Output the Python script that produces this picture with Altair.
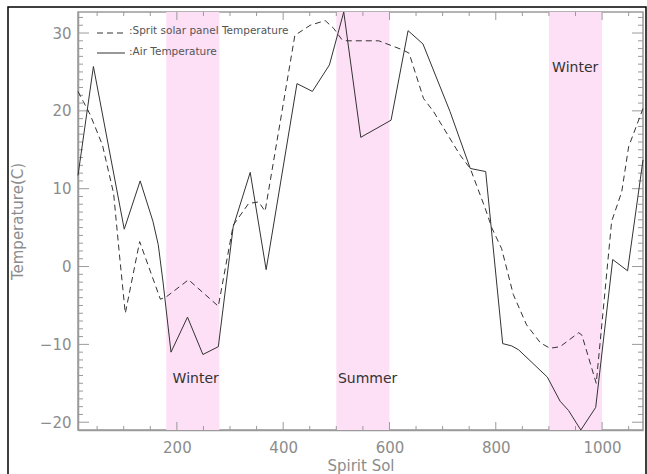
import altair as alt
import pandas as pd

# ---- data ----
air_sol = [14, 43, 101, 131, 155, 165, 174, 189, 220, 249, 278, 306, 338, 368,
           426, 455, 487, 514, 546, 603, 635, 663, 714, 752, 781, 813, 830, 843,
           897, 921, 937, 960, 988, 1020, 1048, 1077]
air_temp = [11.7, 25.7, 4.8, 11.0, 5.8, 2.8, -2.0, -11.0, -6.5, -11.3, -10.3, 5.1,
            12.1, -0.4, 23.5, 22.5, 25.9, 32.7, 16.6, 18.8, 30.3, 28.6, 19.9, 12.6,
            12.2, -9.9, -10.2, -10.7, -14.2, -17.3, -18.5, -21.0, -18.1, 0.9, -0.55, 13.7]

panel_sol = [14, 24, 37, 60, 81, 92, 103, 130, 169, 180, 222, 278, 306, 335, 354,
             366, 422, 451, 479, 495, 510, 520, 580, 626, 637, 664, 683, 733, 752,
             780, 793, 811, 833, 858, 884, 902, 921, 956, 962, 989, 1018, 1037,
             1050, 1077]
panel_temp = [22.5, 21.2, 19.5, 15.6, 9.4, 1.5, -6.0, 3.2, -4.2, -3.9, -1.7, -5.1,
              5.3, 8.1, 8.3, 7.1, 29.7, 31.0, 31.6, 30.6, 29.2, 29.0, 29.0, 27.8,
              27.4, 21.6, 19.9, 14.3, 12.6, 7.5, 4.9, 2.3, -3.6, -7.5, -9.8, -10.5,
              -10.3, -8.5, -8.8, -15.0, 5.8, 9.6, 15.4, 20.3]

season_start = [180, 500, 900]
season_end = [280, 600, 1000]
season_name = ["Winter", "Summer", "Winter"]
season_label_sol = [192, 503, 906]
season_label_temp = [-15.0, -15.0, 25.0]

x_major = [200, 400, 600, 800, 1000]
x_minor = [50, 100, 150, 250, 300, 350, 450, 500, 550, 650, 700, 750, 850, 900,
           950, 1050]
y_major = [-20, -10, 0, 10, 20, 30]
y_minor = [v for v in range(-20, 33) if v % 10 != 0]

legend_names = [":Sprit solar panel Temperature", ":Air Temperature"]

# ---- layout ----
W, H = 565, 418
AXIS_GRAY = "#9a9a9a"
LINE = "#333333"
FONT = "DejaVu Sans"
DASH = [6, 4]

xscale = alt.Scale(domain=[14, 1077], nice=False, zero=False)
yscale = alt.Scale(domain=[-21, 32.7], nice=False, zero=False)

air_df = pd.DataFrame({"sol": air_sol, "temp": air_temp})
panel_df = pd.DataFrame({"sol": panel_sol, "temp": panel_temp})
season_df = pd.DataFrame({"start": season_start, "end": season_end})
label_df = pd.DataFrame({"sol": season_label_sol, "temp": season_label_temp,
                         "name": season_name})

x_axis = alt.Axis(title="Spirit Sol", values=x_major, format="d", ticks=False, grid=False,
                  domainColor=AXIS_GRAY, domainWidth=1.5, labelColor="#8c8c8c",
                  labelFont=FONT, labelFontSize=15, labelPadding=10,
                  titleColor="#8c8c8c", titleFont=FONT, titleFontSize=15,
                  titleFontWeight="normal", titlePadding=3, labelFlush=False)
y_axis = alt.Axis(title="Temperature(C)", values=y_major, format="d", ticks=False,
                  grid=False, domainColor=AXIS_GRAY, domainWidth=1.5,
                  labelColor="#8c8c8c", labelFont=FONT, labelFontSize=15,
                  labelPadding=7, titleColor="#8c8c8c", titleFont=FONT,
                  titleFontSize=15, titleFontWeight="normal", titlePadding=14,
                  labelFlush=False)

# invisible layer carrying both axes
axis_layer = alt.Chart(air_df).mark_point(opacity=0).encode(
    x=alt.X("sol:Q", scale=xscale, axis=x_axis),
    y=alt.Y("temp:Q", scale=yscale, axis=y_axis),
)

bands = alt.Chart(season_df).mark_rect(color="#fde0f6").encode(
    x=alt.X("start:Q", scale=xscale, axis=None),
    x2="end:Q",
    y=alt.value(0), y2=alt.value(H),
)

air_line = alt.Chart(air_df).mark_line(color=LINE, strokeWidth=1).encode(
    x=alt.X("sol:Q", scale=xscale, axis=None),
    y=alt.Y("temp:Q", scale=yscale, axis=None),
)
panel_line = alt.Chart(panel_df).mark_line(color=LINE, strokeWidth=1,
                                           strokeDash=DASH).encode(
    x=alt.X("sol:Q", scale=xscale, axis=None),
    y=alt.Y("temp:Q", scale=yscale, axis=None),
)

labels = alt.Chart(label_df).mark_text(align="left", baseline="alphabetic", font=FONT,
                                       fontSize=14, color="#333333").encode(
    x=alt.X("sol:Q", scale=xscale, axis=None),
    y=alt.Y("temp:Q", scale=yscale, axis=None),
    text="name:N",
)

def xticks(vals, length):
    d = pd.DataFrame({"v": vals})
    bottom = alt.Chart(d).mark_rule(color=AXIS_GRAY, strokeWidth=1).encode(
        x=alt.X("v:Q", scale=xscale, axis=None), y=alt.value(H), y2=alt.value(H - length))
    top = alt.Chart(d).mark_rule(color=AXIS_GRAY, strokeWidth=1).encode(
        x=alt.X("v:Q", scale=xscale, axis=None), y=alt.value(0), y2=alt.value(length))
    return [bottom, top]

def yticks(vals, length):
    d = pd.DataFrame({"v": vals})
    left = alt.Chart(d).mark_rule(color=AXIS_GRAY, strokeWidth=1).encode(
        y=alt.Y("v:Q", scale=yscale, axis=None), x=alt.value(0), x2=alt.value(length))
    right = alt.Chart(d).mark_rule(color=AXIS_GRAY, strokeWidth=1).encode(
        y=alt.Y("v:Q", scale=yscale, axis=None), x=alt.value(W), x2=alt.value(W - length))
    return [left, right]

tick_layers = xticks(x_minor, 4) + xticks(x_major, 8) + yticks(y_minor, 5) + yticks(y_major, 11)

# legend (drawn inside the plot, top-left)
leg_dash = alt.Chart(pd.DataFrame({"n": [legend_names[0]]})).mark_rule(
    color=LINE, strokeWidth=1, strokeDash=DASH).encode(
    x=alt.value(19), x2=alt.value(47), y=alt.value(21))
leg_solid = alt.Chart(pd.DataFrame({"n": [legend_names[1]]})).mark_rule(
    color=LINE, strokeWidth=1).encode(
    x=alt.value(19), x2=alt.value(47), y=alt.value(41))
leg_text1 = alt.Chart(pd.DataFrame({"n": [legend_names[0]]})).mark_text(
    align="left", baseline="alphabetic", font=FONT, fontSize=10.5, color="#555555").encode(
    x=alt.value(51), y=alt.value(22), text="n:N")
leg_text2 = alt.Chart(pd.DataFrame({"n": [legend_names[1]]})).mark_text(
    align="left", baseline="alphabetic", font=FONT, fontSize=10.5, color="#555555").encode(
    x=alt.value(51), y=alt.value(43), text="n:N")

frame = alt.Chart(pd.DataFrame({"n": [0]})).mark_rect(
    filled=False, stroke="black", strokeWidth=1.5, clip=False).encode(
    x=alt.value(-70), x2=alt.value(568), y=alt.value(-5), y2=alt.value(470))

chart = alt.layer(
    bands, *tick_layers, panel_line, air_line, labels,
    leg_dash, leg_solid, leg_text1, leg_text2, frame, axis_layer,
).resolve_axis(x="independent", y="independent").properties(
    width=W, height=H,
    autosize=alt.AutoSizeParams(type="none"),
    padding={"left": 78, "top": 12, "right": 4, "bottom": 44},
    background="white",
).configure_view(stroke=AXIS_GRAY, strokeWidth=1.5)

chart.save("out.html", embed_options={"renderer": "svg", "actions": False})
